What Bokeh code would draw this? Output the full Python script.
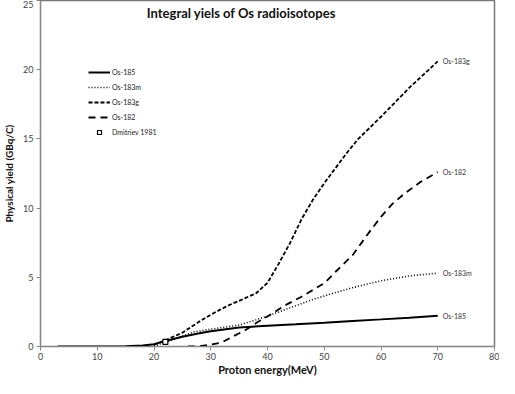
from bokeh.plotting import figure
from bokeh.models import Label, Legend, LegendItem, Range1d, FixedTicker
from bokeh.embed import file_html
from bokeh.resources import INLINE

# Data
e_185 = [3, 10, 15, 18, 20, 22, 25, 28, 30, 35, 40, 45, 50, 55, 60, 65, 70]
y_185 = [0.0, 0.0, 0.02, 0.08, 0.17, 0.4, 0.7, 0.95, 1.1, 1.38, 1.5, 1.6, 1.72, 1.85, 1.96, 2.08, 2.22]

e_183m = [20, 22, 25, 27, 30, 35, 38, 40, 42, 45, 48, 50, 52, 55, 58, 60, 65, 70]
y_183m = [0.05, 0.3, 0.75, 1.05, 1.25, 1.55, 1.93, 2.2, 2.5, 2.95, 3.4, 3.65, 3.9, 4.25, 4.55, 4.75, 5.1, 5.3]

e_183g = [20, 22, 25, 28, 30, 33, 35, 38, 40, 42, 44, 46, 48, 50, 52, 54, 56, 58, 60, 65, 70]
y_183g = [0.13, 0.45, 1.0, 1.8, 2.3, 2.95, 3.3, 3.85, 4.6, 6.0, 7.5, 9.2, 10.6, 11.8, 12.9, 14.0, 15.0, 15.8, 16.6, 18.7, 20.6]

e_182 = [26, 28, 30, 32, 34, 36, 38, 40, 43, 46, 50, 52, 55, 58, 60, 62, 64, 67, 70]
y_182 = [0.0, 0.02, 0.13, 0.3, 0.75, 1.15, 1.7, 2.17, 2.95, 3.6, 4.57, 5.4, 6.6, 8.3, 9.37, 10.3, 11.0, 11.9, 12.6]

dm_e = [22]
dm_y = [0.33]

end_labels = ["Os-183g", "Os-182", "Os-183m", "Os-185"]
x_ticks = [0, 10, 20, 30, 40, 50, 60, 70, 80]
y_ticks = [0, 5, 10, 15, 20, 25]

FONT = "Lato"

p = figure(width=499, height=378, output_backend="svg", toolbar_location=None,
           x_range=Range1d(0, 80), y_range=Range1d(0, 25),
           min_border_left=35, min_border_right=5, min_border_top=0, min_border_bottom=0)
p.grid.visible = False
p.outline_line_color = "#777777"
p.outline_line_width = 1.5
p.background_fill_color = "white"
p.border_fill_color = "white"

for ax in (p.xaxis[0], p.yaxis[0]):
    ax.axis_line_color = "#888888"
    ax.major_tick_line_color = "#888888"
    ax.minor_tick_line_color = None
    ax.major_tick_out = 4
    ax.major_tick_in = 0
    ax.major_label_text_font = FONT
    ax.major_label_text_font_size = "9px"
    ax.major_label_text_color = "#444444"
    ax.axis_label_text_font = FONT
    ax.axis_label_text_font_style = "bold"
    ax.axis_label_text_color = "#111111"

p.xaxis[0].ticker = FixedTicker(ticks=x_ticks)
p.yaxis[0].ticker = FixedTicker(ticks=y_ticks)
p.xaxis[0].axis_label = "Proton energy(MeV)"
p.xaxis[0].axis_label_text_font_size = "11px"
p.xaxis[0].axis_label_standoff = 0
p.xaxis[0].major_label_standoff = 2
p.yaxis[0].axis_label = "Physical yield (GBq/C)"
p.yaxis[0].axis_label_text_font_size = "10px"
p.yaxis[0].axis_label_standoff = 5
p.yaxis[0].major_label_standoff = 3

r185 = p.line(e_185, y_185, line_color="black", line_width=2)
r183m = p.line(e_183m, y_183m, line_color="black", line_width=1.6, line_dash="1 2")
r183g = p.line(e_183g, y_183g, line_color="black", line_width=1.8, line_dash="4 2")
r182 = p.line(e_182, y_182, line_color="black", line_width=1.8, line_dash="7 5")
rdm = p.scatter(dm_e, dm_y, marker="square", size=5, fill_color="white",
                line_color="black", line_width=1.2)

ends = [(e_183g[-1], y_183g[-1]), (e_182[-1], y_182[-1]),
        (e_183m[-1], y_183m[-1]), (e_185[-1], y_185[-1])]
for lab, (ex, ey) in zip(end_labels, ends):
    p.add_layout(Label(x=ex, y=ey, text=lab, x_offset=5, text_baseline="middle",
                       text_font=FONT, text_font_size="7px", text_color="#333333"))

legend = Legend(items=[
    LegendItem(label="Os-185", renderers=[r185]),
    LegendItem(label="Os-183m", renderers=[r183m]),
    LegendItem(label="Os-183g", renderers=[r183g]),
    LegendItem(label="Os-182", renderers=[r182]),
    LegendItem(label="Dmitriev 1981", renderers=[rdm]),
], location=(48, 209))
legend.background_fill_alpha = 0
legend.border_line_color = None
legend.label_text_font = FONT
legend.label_text_font_size = "7px"
legend.label_text_color = "#222222"
legend.glyph_width = 22
legend.glyph_height = 10
legend.label_height = 10
legend.spacing = 5
legend.label_standoff = 2
legend.padding = 0
legend.margin = 0
p.add_layout(legend)

p.add_layout(Label(x=35.4, y=24.1, text="Integral yiels of Os radioisotopes",
                   text_align="center", text_baseline="middle",
                   text_font=FONT, text_font_style="bold", text_font_size="13px",
                   text_color="#111111"))

open("out.html", "w").write(file_html(p, INLINE))
